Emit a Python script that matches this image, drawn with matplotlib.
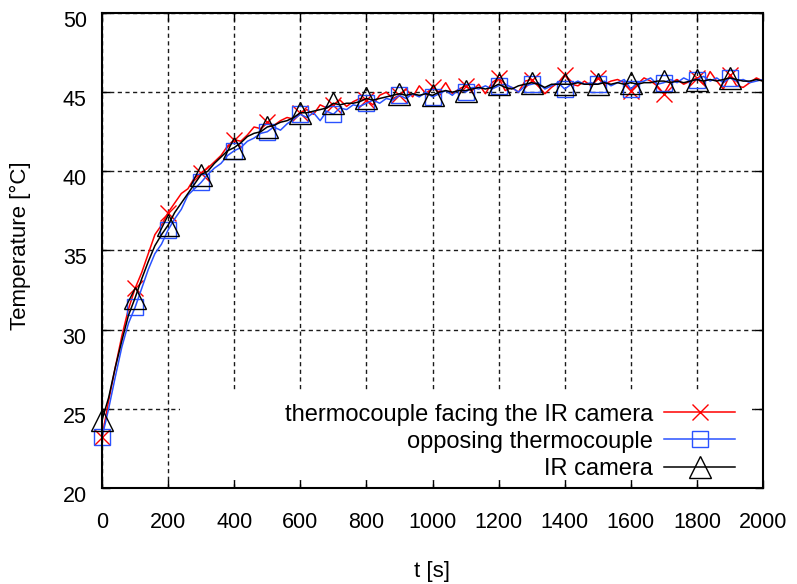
import numpy as np
import matplotlib
matplotlib.use("Agg")
import matplotlib.pyplot as plt
from matplotlib.patches import Rectangle
import matplotlib.transforms as mtransforms

plt.rcParams['font.family'] = ['Liberation Sans', 'DejaVu Sans']

# time axis, one sample every 20 s
t = np.arange(0, 2001, 20)

# thermocouple facing the IR camera
tc_front = [23.2, 25.5, 27.6, 29.6, 31.3, 32.6, 33.6, 34.8, 36.0, 36.6,
            37.4, 38.0, 38.6, 38.9, 39.6, 39.9, 40.2, 40.6, 41.0, 41.6,
            42.0, 41.9, 42.3, 42.8, 42.7, 43.1, 42.9, 43.2, 43.4, 43.3,
            43.7, 43.9, 43.6, 44.2, 44.0, 44.2, 44.5, 44.1, 44.4, 44.6,
            44.5, 44.2, 44.8, 45.0, 44.6, 44.8, 45.2, 44.7, 45.4, 44.9,
            45.3, 45.0, 45.6, 44.9, 45.2, 45.4, 45.1, 45.5, 44.9, 45.6,
            45.9, 45.1, 45.3, 45.0, 45.7, 45.8, 45.4, 44.9, 45.3, 45.6,
            46.1, 45.5, 45.4, 45.7, 45.4, 45.9, 45.5, 45.7, 45.8, 45.6,
            45.1, 45.5, 45.9, 45.7, 45.4, 44.9, 45.6, 45.8, 45.5, 45.7,
            45.9, 45.5, 46.3, 45.7, 45.2, 46.1, 45.4, 45.3, 45.6, 45.9,
            45.7]

# opposing thermocouple
tc_back = [23.2, 25.0, 27.0, 28.9, 30.4, 31.4, 32.6, 33.8, 34.8, 35.4,
           36.3, 37.0, 37.6, 38.5, 38.9, 39.3, 39.8, 40.2, 40.5, 41.0,
           41.3, 41.5, 41.9, 42.1, 42.4, 42.5, 42.8, 42.6, 43.0, 43.3,
           43.6, 43.4, 43.7, 43.2, 43.8, 43.6, 44.0, 43.9, 44.2, 44.1,
           44.3, 44.5, 44.3, 44.6, 44.5, 44.8, 44.6, 44.9, 44.7, 45.0,
           44.7, 44.9, 45.1, 44.8, 45.2, 45.0, 45.3, 45.2, 45.4, 45.2,
           45.4, 45.5, 45.3, 45.0, 45.4, 45.5, 45.6, 45.2, 45.4, 45.6,
           45.2, 45.5, 45.7, 45.5, 45.6, 45.5, 45.7, 45.4, 45.6, 45.8,
           45.2, 45.6, 45.7, 45.9, 45.5, 45.6, 45.8, 45.6, 45.9, 45.7,
           45.8, 46.0, 45.7, 45.9, 45.6, 45.9, 45.7, 45.8, 45.6, 45.7,
           45.8]

# IR camera
ir_cam = [24.3, 25.7, 27.6, 29.3, 30.9, 32.0, 33.2, 34.3, 35.3, 36.0,
          36.6, 37.4, 38.0, 38.6, 39.2, 39.8, 40.0, 40.5, 40.9, 41.3,
          41.5, 41.8, 42.2, 42.4, 42.5, 42.8, 42.9, 43.1, 43.2, 43.4,
          43.7, 43.7, 43.8, 43.9, 44.0, 44.3, 44.2, 44.3, 44.3, 44.4,
          44.6, 44.5, 44.6, 44.7, 44.8, 44.9, 44.8, 44.9, 44.8, 44.9,
          44.8, 45.0, 45.1, 45.0, 45.1, 45.1, 45.2, 45.3, 45.2, 45.3,
          45.5, 45.3, 45.2, 45.4, 45.5, 45.6, 45.5, 45.3, 45.5, 45.5,
          45.5, 45.5, 45.6, 45.5, 45.5, 45.5, 45.6, 45.5, 45.6, 45.5,
          45.6, 45.5, 45.6, 45.6, 45.7, 45.7, 45.6, 45.7, 45.6, 45.7,
          45.8, 45.7, 45.8, 45.7, 45.8, 45.9, 45.8, 45.7, 45.7, 45.8,
          45.7]

labels = ["thermocouple facing the IR camera", "opposing thermocouple", "IR camera"]

fig = plt.figure(figsize=(7.97, 5.84), dpi=100)
ax = fig.add_axes([102/797, 96/584, 661/797, 475/584])

mk = list(range(0, 100, 5))
ax.plot(t, tc_front, color='#ff0000', lw=1.1, marker='x', ms=11, mew=1.0,
        markevery=mk, label=labels[0], clip_on=False)
ax.plot(t, tc_back, color='#2a52ff', lw=1.1, marker='s', ms=11, mew=1.0,
        mfc='none', markevery=mk, label=labels[1], clip_on=False)
ax.plot(t, ir_cam, color='black', lw=1.1, marker='^', ms=16, mew=1.0,
        mfc='none', markevery=mk, label=labels[2], clip_on=False)

ax.set_xlim(0, 2000)
ax.set_ylim(20, 50)
ax.set_xticks(range(0, 2001, 200))
ax.set_yticks(range(20, 51, 5))

ax.set_axisbelow(True)
ax.grid(True, color='0.1', lw=1.0, ls=(0, (3, 2.5)))
ax.tick_params(direction='in', length=5.5, width=1.0, top=True, right=True,
               labelsize=15.5, colors='black')
ax.tick_params(axis='x', pad=17)
ax.tick_params(axis='y', pad=11)
for sp in ax.spines.values():
    sp.set_linewidth(1.5)
    sp.set_zorder(3)

# shift y tick labels a little down like the original
off = mtransforms.ScaledTranslation(0, -6/100, fig.dpi_scale_trans)
for lab in ax.get_yticklabels():
    lab.set_transform(lab.get_transform() + off)

# white key box hiding the grid
ax.add_patch(Rectangle((0.118, 0.017), 0.865, 0.185, transform=ax.transAxes,
                       facecolor='white', edgecolor='none', zorder=1))

leg = ax.legend(loc='lower right', bbox_to_anchor=(0.9576, 0.017), frameon=False,
                markerfirst=False, fontsize=17, handlelength=3.0,
                handletextpad=0.47, labelspacing=0.22, borderpad=0,
                borderaxespad=0)

fig.text(20/797, 1 - 246/584, "Temperature [°C]", rotation=90, ha='center',
         va='center', fontsize=16)
fig.text(432/797, 1 - 572/584, "t [s]", ha='center', va='center', fontsize=16)

fig.savefig("out.png", dpi=100)
